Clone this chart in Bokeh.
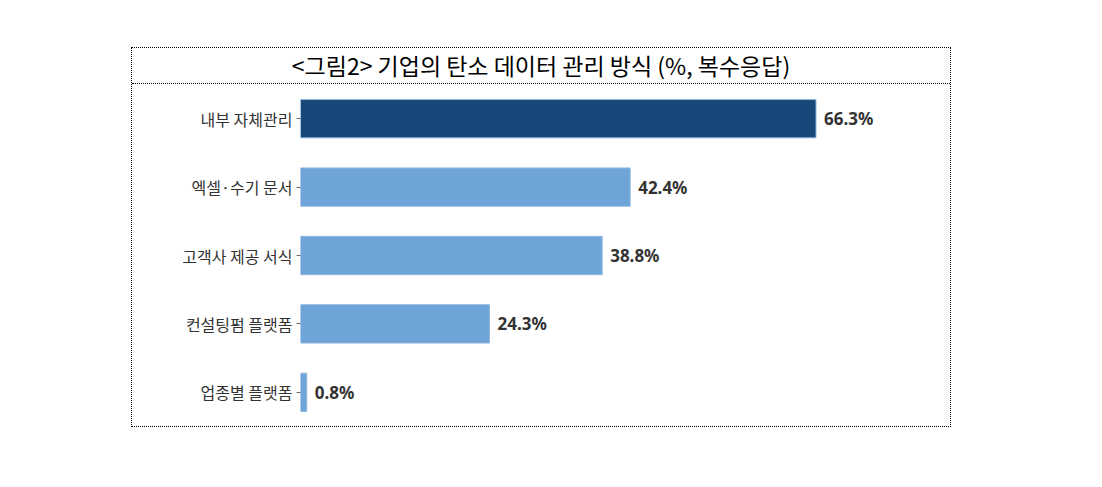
from bokeh.plotting import figure
from bokeh.models import ColumnDataSource, Div
from bokeh.layouts import column
from bokeh.core.properties import value
from bokeh.embed import file_html
from bokeh.resources import INLINE

title = "&lt;그림2&gt; 기업의 탄소 데이터 관리 방식 (%, 복수응답)"
categories = ["내부 자체관리", "엑셀·수기 문서", "고객사 제공 서식", "컨설팅펌 플랫폼", "업종별 플랫폼"]
values = [66.3, 42.4, 38.8, 24.3, 0.8]
colors = ["#18477A", "#6FA4D8", "#6FA4D8", "#6FA4D8", "#6FA4D8"]
labels = ["%.1f%%" % v for v in values]

src = ColumnDataSource(dict(cat=categories, val=values, color=colors, label=labels))

p = figure(y_range=list(reversed(categories)), x_range=(0, 83.6),
           width=818, height=342, output_backend="svg", toolbar_location=None,
           min_border_left=168, min_border_right=0, min_border_top=0, min_border_bottom=0,
           margin=0)
p.y_range.range_padding = 0
p.hbar(y="cat", right="val", height=0.56, fill_color="color", line_color="#8DB6E0",
       line_width=1, source=src)
p.text(x="val", y="cat", text="label", x_offset=8, text_baseline="middle",
       text_font=value("Noto Sans"), text_font_style="bold", text_font_size="17px",
       text_color="#333333", source=src)

p.xaxis.visible = False
p.xgrid.visible = False
p.ygrid.visible = False
p.outline_line_color = None
p.yaxis.axis_line_color = None
p.yaxis.major_tick_out = 4
p.yaxis.major_tick_in = 0
p.yaxis.major_tick_line_color = "#666666"
p.yaxis.major_label_standoff = 4
p.yaxis.major_label_text_font = "Noto Sans CJK KR"
p.yaxis.major_label_text_font_size = "16px"
p.yaxis.major_label_text_color = "#333333"

head = Div(text=title, width=818, height=36, margin=0,
           styles={"font-family": "Noto Sans CJK KR", "font-size": "23px",
                   "text-align": "center", "line-height": "35px", "color": "#000",
                   "border-bottom": "1px dotted #000", "box-sizing": "border-box"})

layout = column(head, p, styles={"border": "1px dotted #000"}, margin=(47, 0, 0, 131))

open("out.html", "w").write(file_html(layout, INLINE))
